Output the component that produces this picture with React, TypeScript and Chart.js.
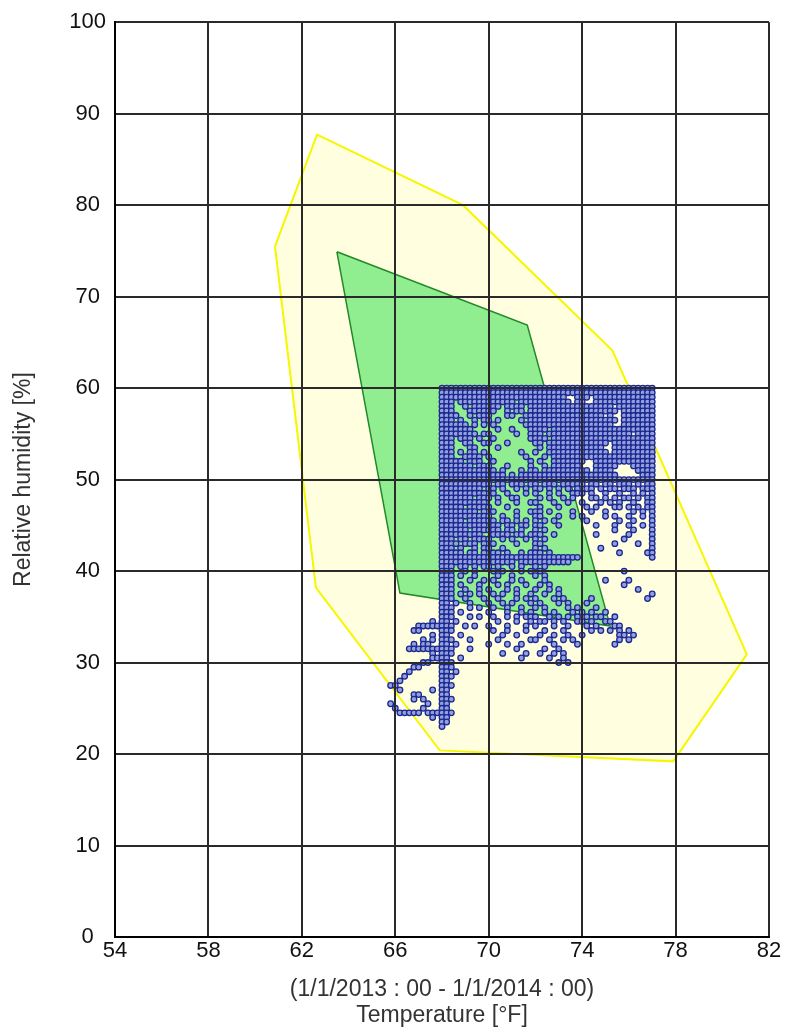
import React, { useEffect, useRef } from "react";
import { Chart, registerables } from "chart.js";

Chart.register(...registerables);

// Axis ticks
const tempTicks = [54, 58, 62, 66, 70, 74, 78, 82];
const humidityTicks = [0, 10, 20, 30, 40, 50, 60, 70, 80, 90, 100];

// Outer (yellow) comfort zone polygon
const outerZoneTemp = [60.85, 62.65, 68.9, 75.3, 81.05, 77.9, 67.9, 62.6];
const outerZoneRH = [75.5, 87.7, 80.0, 64.1, 30.9, 19.2, 20.4, 38.2];

// Inner (green) comfort zone polygon
const innerZoneTemp = [63.5, 71.65, 75.2, 66.2];
const innerZoneRH = [74.9, 66.9, 34.0, 37.6];

// Measured samples, read from the picture as an occupancy map:
// each row is one humidity level (from 60 % down in 0.5 % steps),
// each column one temperature (from 65.6 °F up in 0.2 °F steps), 'o' = sample present.
const sampleRH0 = 60;
const sampleRHStep = 0.5;
const sampleT0 = 65.6;
const sampleTStep = 0.2;
const sampleRows = [
  "............ oooooooooo oooooooooo oooooooooo oooooooooo oooooo",
  "............ oooooooooo oooooooooo oooooooooo oooooooooo oooooo",
  "............ oooooooooo oooooooooo ooooooo..o oo.ooooooo oooooo",
  "............ ooo.oooooo oooooo.ooo oooooooo.o o..ooooooo oooooo",
  "............ ooo..o.ooo ooo.oooo.o oooooooooo ooooooo.oo oooooo",
  "............ ooo...oooo oo..o.oo.o oooooooooo oooooooo.o oooooo",
  "............ oooo..o.oo o...oo..oo oooooooooo ooooo.o..o oooooo",
  "............ ooo.o..o.o o.o....o.o oooooooooo oooooooo.o oooooo",
  "............ oooooo.o.o .o......oo oooooooooo ooooooo..o oooooo",
  "............ ooooooo... ..o..o...o ooo.oooooo oooooooooo oooooo",
  "............ oooooooo.o o.....o..o oo.ooooooo oooooooooo o.oooo",
  "............ ooo.ooo.o. .o.......o ooo.oooooo oooooooooo oooooo",
  "............ ooo..oo..o o...o..... oo.ooooooo oooooo.ooo oooooo",
  "............ ooo...oo.. ..o....... .o.ooooooo ooooo..ooo oooooo",
  "............ ooo.o.oo.o .......o.. o..ooooooo oooooo.ooo oooooo",
  "............ ooo..oooo. o.......o. ..o.oooooo oooooooooo oooooo",
  "............ ooooo.ooo. .o.......o .o..oooooo o..ooooooo oooooo",
  "............ ooooooo.oo o...o....o ..o.oooooo ...ooooo.. .ooooo",
  "............ oooooooooo oo.o...o.o o.oooooooo oo.oooo... ..oooo",
  "............ oooooooooo oooo.o.ooo oooooooooo oooooooo.. ...ooo",
  "............ oooooooooo oooooooooo oooooooooo oooooooooo oooooo",
  "............ oooooooooo o.oo.ooo.o o.ooo.oooo o.oo.oo.oo o.o.oo",
  "............ ooooooooo. oo.o..o.o. oo.o.o.o.o .oo.o.oo.o oo.ooo",
  "............ oooooooooo .o..o...o. o..o.o..oo o.o..o..o. .o.o.o",
  "............ ooooooo.oo o.o..oo... .o.o..o.o. ..oo.o.o.o o.o.oo",
  "............ oooooooooo ..o...o..o o...o..o.. o...o.o.o. .o..oo",
  "............ ooooo.oooo o...o..... .o...o.... .o.o...oo. o.o.oo",
  "............ oooooooo.o .o....o..o oo.o....o. ..o..o.... .o.o.o",
  "............ oooooooooo o..o..o... oo...o..o. o....o.o.. o..o.o",
  "............ ooooo.oooo oo.oo.o.o. o.o.o..... .o......o. .o...o",
  "............ oooooooooo .oo.oo.oo. oo...o.... ...o...o.. o..o.o",
  "............ oooooo.ooo ooo.oo.o.. o.o....... .......o.. .o...o",
  "............ ooooooooo. .oooo.oo.o oo..o..... ...o...... o....o",
  "............ ooo.oo.ooo o..o.o..o. o.o....... .........o .....o",
  "............ oooo.ooo.o .o....o... oo........ .......o.. ..o..o",
  "............ ooo.o..o.o o..o...... o.o....... ....o..... .....o",
  "............ ooooo.oo.o .oo.o..o.o oo.o...... ........o. ....oo",
  "............ oooooooooo oooooooooo oooooooooo .......... .....o",
  "............ oooooooooo oooooo.ooo oooooooo.. .......... ......",
  "............ ooo.oo.o.o o.o..o.o.. o.o....... .......... ......",
  "............ ooo..o.o.. .o.o...o.o .o........ .........o ......",
  "............ ooo.o..o.. ..o..o.... o.o....... .......... ......",
  "............ ooo...o..o .o...o.o.. ..o....... .....o.... o.....",
  "............ ooo.o...o. ..o.o...o. .o.o...... .........o ......",
  "............ ooo..o..o. o...o.o... o..o.o.... .......... ..o...",
  "............ ooo.o.o.o. .o.o..o..o ..o..o.... .......... .....o",
  "............ ooo..o...o ..o...o.o. o...o.o... ..o....... ....o.",
  "............ oo.o..o... o..o.o...o .o...o.o.. .o........ ......",
  "............ ooo...o.o. .o..o..o.. o.o....o.o ...o...... ......",
  "............ ooo.o..... o...o..o.o ..o.o...o. o.o..o.... ......",
  "............ ooo...o.o. .o..o.o.oo o..o.o.o.o .o.oo..o.. ......",
  "..........o. oo.o...... ..o...o..o .oo.o.o..o o.o..oo... ......",
  ".......ooooo ooo..o.o.. o...o...o. o...o..o.. .o.o...oo. ......",
  "......oo.... ooo....... .o..o...o. ..o...o... ..o.o.o.o. o.....",
  "..........o. oo..o..... ...o..o... .o..o..o.. o.......oo .o....",
  "........o.o. ooo...o... ..o......o o..o..o.o. ........o. o.....",
  "......o.oo.. oo.o...... o...o..o.. ....o....o .......o.. ......",
  ".....ooooooo ooo...o... ......o... ..o..o.... .......... ......",
  "..........o. ooo....... ...o....o. .o..o.o... .......... ......",
  "..........oo oo..o..... .......o.. ...o..o... .......... ......",
  "........oo.. ooo....... .......... .....o.o.. .......... ......",
  "......oo.... ooo....... .......... .......... .......... ......",
  ".....o...... oo.o...... .......... .......... .......... ......",
  "....o....... ooo....... .......... .......... .......... ......",
  "...o........ oo........ .......... .......... .......... ......",
  ".oo......... ooo....... .......... .......... .......... ......",
  "...o......o. oo........ .......... .......... .......... ......",
  "......oo.... oo........ .......... .......... .......... ......",
  "......o.o... ooo....... .......... .......... .......... ......",
  ".o.......o.. oo........ .......... .......... .......... ......",
  "..o.....o... oo........ .......... .......... .......... ......",
  "...ooooo.ooo ooo....... .......... .......... .......... ......",
  "..........o. oo........ .......... .......... .......... ......",
  "............ oo........ .......... .......... .......... ......",
  "............ o......... .......... .......... .......... ......",
];

const xTitle = ["(1/1/2013 : 00 - 1/1/2014 : 00)", "Temperature [°F]"];
const yTitle = "Relative humidity [%]";

const FONT = "'Liberation Sans', Arial, Helvetica, sans-serif";

function buildSamples() {
  const pts: { x: number; y: number }[] = [];
  sampleRows.forEach((row, r) => {
    const s = row.replace(/ /g, "");
    for (let c = 0; c < s.length; c++) {
      if (s[c] === "o") {
        pts.push({
          x: Math.round((sampleT0 + sampleTStep * c) * 10) / 10,
          y: Math.round((sampleRH0 - sampleRHStep * r) * 10) / 10,
        });
      }
    }
  });
  return pts;
}

function polygon(xs: number[], ys: number[]) {
  const pts = xs.map((x, i) => ({ x, y: ys[i] }));
  pts.push({ x: xs[0], y: ys[0] });
  return pts;
}

export default function App() {
  const ref = useRef<HTMLCanvasElement>(null);

  useEffect(() => {
    if (!ref.current) return;
    const chart = new Chart(ref.current, {
      type: "scatter",
      data: {
        datasets: [
          {
            label: "Measured",
            data: buildSamples(),
            order: 0,
            pointRadius: 2.8,
            pointBackgroundColor: "#93a0e0",
            pointBorderColor: "#1c288e",
            pointBorderWidth: 1.3,
            showLine: false,
          } as any,
          {
            type: "line",
            label: "Inner zone",
            data: polygon(innerZoneTemp, innerZoneRH),
            order: 1,
            showLine: true,
            tension: 0,
            pointRadius: 0,
            borderColor: "#22882a",
            borderWidth: 1.5,
            backgroundColor: "#90ee90",
            fill: "shape",
          } as any,
          {
            type: "line",
            label: "Outer zone",
            data: polygon(outerZoneTemp, outerZoneRH),
            order: 2,
            showLine: true,
            tension: 0,
            pointRadius: 0,
            borderColor: "#f6f600",
            borderWidth: 2,
            backgroundColor: "#ffffe0",
            fill: "shape",
          } as any,
        ],
      },
      options: {
        animation: false,
        responsive: false,
        events: [],
        layout: { padding: { left: 0, top: 20, right: 19, bottom: 0 } },
        plugins: {
          legend: { display: false },
          tooltip: { enabled: false },
        },
        scales: {
          x: {
            type: "linear",
            min: 54,
            max: 82,
            afterBuildTicks: (s: any) => {
              s.ticks = tempTicks.map((v) => ({ value: v }));
            },
            afterFit: (s: any) => {
              s.height = 92;
            },
            ticks: {
              color: "#111",
              padding: 1,
              maxRotation: 0,
              autoSkip: false,
              font: { family: FONT, size: 22, lineHeight: 1.2 },
            },
            grid: { color: "#2a2a2a", lineWidth: 2, drawTicks: false, z: 1 },
            border: { display: true, color: "#000", width: 2, z: 2 },
            title: {
              display: true,
              text: xTitle,
              color: "#333",
              font: { family: FONT, size: 23, lineHeight: 1.15 },
              padding: { top: 0, bottom: 0 },
            },
          },
          y: {
            type: "linear",
            min: 0,
            max: 100,
            afterBuildTicks: (s: any) => {
              s.ticks = humidityTicks.map((v) => ({ value: v }));
            },
            afterFit: (s: any) => {
              s.width = 115;
            },
            ticks: {
              color: "#111",
              padding: 9,
              crossAlign: "center",
              autoSkip: false,
              font: { family: FONT, size: 22 },
            },
            grid: { color: "#2a2a2a", lineWidth: 2, drawTicks: false, z: 1 },
            border: { display: true, color: "#000", width: 2, z: 2 },
            title: {
              display: true,
              text: yTitle,
              color: "#333",
              font: { family: FONT, size: 23, lineHeight: 1.2 },
              padding: { top: 10, bottom: 0 },
            },
          },
        },
      } as any,
    });
    return () => chart.destroy();
  }, []);

  return (
    <div
      style={{
        position: "absolute",
        left: 0,
        top: 0,
        width: 788,
        height: 1029,
        background: "#fff",
      }}
    >
      <canvas ref={ref} width={788} height={1029} style={{ display: "block" }} />
    </div>
  );
}
